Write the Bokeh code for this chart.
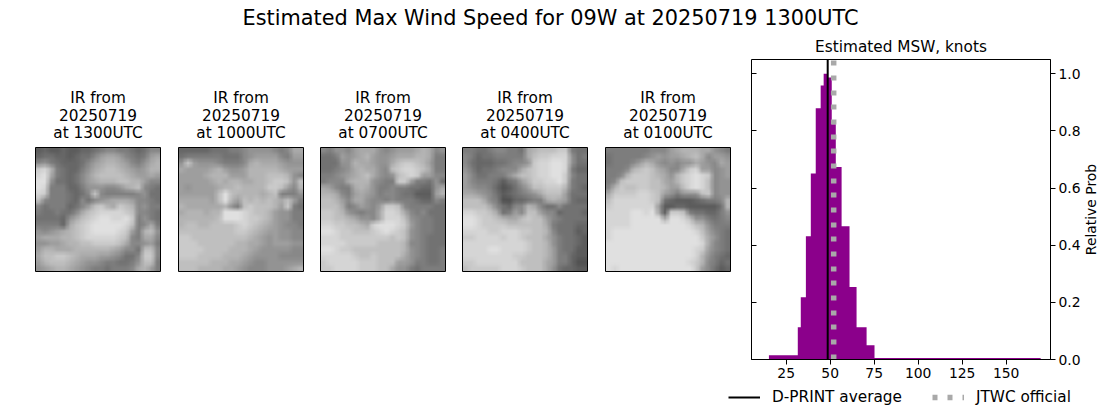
import math
import numpy as np
from bokeh.embed import file_html
from bokeh.layouts import column, row
from bokeh.models import (FixedTicker, Label, Legend, LegendItem, LinearAxis,
                          LinearColorMapper, NumeralTickFormatter, Range1d, Title)
from bokeh.palettes import Greys256
from bokeh.plotting import figure
from bokeh.resources import INLINE

FONT = "DejaVu Sans"

main_title = "Estimated Max Wind Speed for 09W at 20250719 1300UTC"
hist_title = "Estimated MSW, knots"
y_label = "Relative Prob"
panel_times = ["1300UTC", "1000UTC", "0700UTC", "0400UTC", "0100UTC"]
panel_date = "20250719"

# Histogram of estimated MSW (knots): bin edges and relative probabilities
bin_edges = [15.2, 31.6, 33.3, 36.2, 39.0, 41.8, 44.6, 46.3, 48.5, 50.9,
             53.2, 56.5, 61.0, 65.0, 70.7, 75.2, 169.6]
bin_heights = [0.015, 0.113, 0.218, 0.431, 0.651, 0.879, 0.959, 1.0, 0.987,
               0.823, 0.674, 0.466, 0.254, 0.113, 0.050, 0.005]
dprint_average = 48.6
jtwc_official = 52.0
x_ticks = [25, 50, 75, 100, 125, 150]
y_ticks = [0.0, 0.2, 0.4, 0.6, 0.8, 1.0]

# Brightness (one hex digit per cell, top row first)
ir_1300 = [
    "23223 22334 56655 43466", "34433 23446 89986 54589", "67543 33468 9aa98 6579a",
    "cda54 33579 abba9 878aa", "de954 3468a bbbba 98898", "ee744 34689 aaabb aa866",
    "ed555 33577 76679 ab654", "dc555 4346c 65555 56744", "b6555 43646 78999 86654",
    "64555 3468b ca9cb a6755", "54454 469bc ddddc b6654", "44443 79bcd eedde c5754",
    "55553 9bcde eeeed b5695", "76789 abcde eeedc 85ab7", "8999a abcdd dddcb 65996",
    "77889 aabbc cccb9 66785", "8aa99 9aaaa aa986 64bb6", "9bbcc ba999 88764 46cc6",
    "8abbb a9877 65544 57bb5", "789aa 98765 54555 69a85",
]
ir_1000 = [
    "33333 44455 67777 65699", "45555 55444 67888 86588", "7c877 76555 69a99 98777",
    "98888 9a877 8aaaa a9888", "88889 aaa88 8aaab bba76", "88888 9a9aa 99aab ccb7b",
    "87888 89aab aaaac cb86a", "88888 8beba aaa9a b5557", "99999 8bea8 babab a9b85",
    "a9999 99a75 bcbbb a8c54", "9aaa9 aaeee dcbba 87755", "aaaaa abeee dccba 87755",
    "abbaa bbbbc dcba9 87665", "bbbbb bbbbc cba98 87766", "ccbbb bbbbb ba987 87766",
    "cccbb bbbba a9987 88877", "ccccb bbbaa a9877 77766", "cccbb bbaaa 98777 76666",
    "bbbbb aaa99 87667 77777", "bbbaa aa998 76667 7789a",
]
ir_0700 = [
    "65776 89997 67888 9a967", "44587 89a87 78999 aa955", "44477 a9987 79bcc ba855",
    "44567 9a997 6bcdd cb955", "55678 9ab97 67bcd c8866", "56669 aaa76 55cc8 55474",
    "98655 9a975 56554 43379", "aa965 89875 66544 2228a", "bba86 99766 56555 43365",
    "bbb95 68768 ccb65 55544", "ccba7 65669 ddc96 56444", "ccbba 97769 dddb7 65544",
    "ddccb ba9de eedc8 65544", "eedcc bbbcd edcb7 65544", "dddcc ccccc cbcb7 65444",
    "ddddc ccccb bbba6 65444", "eedcc bbbbb bbba7 65445", "ddddd cbbcb bbb97 65445",
    "cdddd dcccb bb887 55445", "ccddd dcccb b9775 45555",
]
ir_0400 = [
    "55445 66554 9abbb cc544", "65344 55555 9bccd dd745", "64333 44566 7cdde ed744",
    "75344 56669 bcdde ed533", "86445 5579b bcdde ec644", "86555 42458 accdd ec544",
    "87665 31246 8bbcc ca543", "99876 42345 679bb b8444", "bbb96 51133 4559a 98433",
    "bbbb9 64366 a9644 64444", "ddccb 94586 bb866 34443", "eedcc ba99b cbb86 54444",
    "eedcc ccbbb bbb95 44433", "ddddc cdddc cbba6 44423", "ccddd dcddc bbb97 54432",
    "ddddd ddddd cbba7 54432", "dddde edddd cbba8 54422", "ddddd dddcc bbba8 55322",
    "ccddd ddddb bbb98 55311", "bcccc cdddc bbb97 43322",
]
ir_0100 = [
    "55555 55666 89aaa 99765", "45555 56787 889ab 96887", "45556 8a976 76779 87698",
    "5556a bcb98 669cd 88678", "556ac ccba9 7acde dc678", "56bcc ccbb9 8acde db677",
    "6acbb ccbba 88bde db677", "9cccc ddcb8 75777 bc677", "bdddd ddcb4 32223 4556a",
    "cdddd ddd82 23322 2224a", "dddde ede92 ccb54 43357", "dddde eeee9 eedb7 75456",
    "dddde eeeee eeedb a7555", "deeee eeeee eeeed b8654", "deeee eeeee eeeee c9754",
    "eeeee eeeee eeeee d9654", "eeeee eeeee eeeed c8654", "eeeee eeeee eeeed a7543",
    "eeeee eeeee eeedc a6534", "edeee eeeee eeeec 86423",
]
panels = [ir_1300, ir_1000, ir_0700, ir_0400, ir_0100]

JTWC_DASH = [5, 10, 5, 10, 5, 9]


def decode(rows, scale=5):
    """Hex rows to grey levels, resampled for display like an interpolated imshow."""
    a = np.array([[70 + 11 * int(c, 16) for c in r.replace(" ", "")] for r in rows], float)
    n = a.shape[0]
    src = np.arange(n) + 0.5
    dst = (np.arange(n * scale) + 0.5) / scale
    a = np.array([np.interp(dst, src, r) for r in a])
    a = np.array([np.interp(dst, src, c) for c in a.T]).T
    return a[::-1]


def bare(width, height, **kw):
    p = figure(width=width, height=height, output_backend="svg", toolbar_location=None,
               x_axis_type=None, y_axis_type=None, **kw)
    p.grid.visible = False
    p.background_fill_color = None
    p.border_fill_color = None
    return p


# Main title strip
top = bare(1100, 32, x_range=Range1d(0, 1), y_range=Range1d(0, 1), min_border=0)
top.outline_line_color = None
top.add_layout(Label(x=550, y=15, x_units="screen", y_units="screen", text=main_title,
                     text_align="center", text_baseline="middle", text_font=FONT,
                     text_font_size="20.83px", text_color="black"))

ROW_H = 353
FRAME_H = 300
IMG_H = 124
IMG_W = 125
mapper = LinearColorMapper(palette=Greys256, low=0, high=255)
# Left border of each image panel's figure
left_borders = [34, 16, 15, 15, 16]
ir_figs = []
for rows, when, bl in zip(panels, panel_times, left_borders):
    n = len(rows)
    ypad = (FRAME_H - IMG_H) / 2 * n / IMG_H
    xpad = n / IMG_W
    p = bare(bl + IMG_W + 2, ROW_H, x_range=Range1d(-xpad, n + xpad),
             y_range=Range1d(-ypad, n + ypad),
             min_border_left=bl, min_border_right=0, min_border_top=27, min_border_bottom=26)
    p.image(image=[decode(rows)], x=0, y=0, dw=n, dh=n, color_mapper=mapper)
    p.quad(left=[0], right=[n], bottom=[0], top=[n], fill_color=None, line_color="black",
           line_width=1)
    p.outline_line_color = None
    for txt, dy in (("IR from", 261.5), (panel_date, 244.5), ("at " + when, 227)):
        p.add_layout(Label(x=63.5, y=dy, x_units="screen", y_units="screen", text=txt,
                           text_align="center", text_baseline="middle",
                           text_font=FONT, text_font_size="15.3px", text_color="black"))
    ir_figs.append(p)

# Histogram panel
h = figure(width=352, height=ROW_H, output_backend="svg", toolbar_location=None,
           x_range=Range1d(5.3, 175.2), y_range=Range1d(0, 1.05),
           x_axis_type=None, y_axis_type=None,
           min_border_left=20, min_border_right=32, min_border_top=27, min_border_bottom=26)
h.grid.visible = False
h.background_fill_color = None
h.border_fill_color = None
h.outline_line_color = "black"
h.varea_step(x=bin_edges, y1=[0] * len(bin_edges), y2=bin_heights + bin_heights[-1:],
             step_mode="after", fill_color="#8b008b")
h.line([jtwc_official] * 2, [0, 1.05], line_color="#a9a9a9", line_width=5.5,
       line_dash=JTWC_DASH)
h.line([dprint_average] * 2, [0, 1.05], line_color="black", line_width=2)

axis_style = dict(major_tick_out=5, major_tick_in=0, minor_tick_out=0, minor_tick_in=0,
                  major_label_standoff=3, major_label_text_font=FONT,
                  major_label_text_font_size="13.9px", major_label_text_color="black",
                  axis_line_color="black", major_tick_line_color="black")
h.add_layout(LinearAxis(ticker=FixedTicker(ticks=x_ticks), **axis_style), "below")
h.add_layout(LinearAxis(ticker=FixedTicker(ticks=y_ticks),
                        formatter=NumeralTickFormatter(format="0.0"), **axis_style), "right")
# Inward ticks on the left spine, without labels
h.add_layout(LinearAxis(ticker=FixedTicker(ticks=y_ticks), major_tick_in=5, major_tick_out=0,
                        minor_tick_in=0, minor_tick_out=0, major_label_text_font_size="0px",
                        major_label_text_color=None, axis_line_color=None,
                        major_tick_line_color="black", major_label_standoff=0), "left")
h.add_layout(Title(text=hist_title, align="center", text_font=FONT, text_font_size="15.3px",
                   text_font_style="normal", text_color="black", standoff=7), "above")

# Narrow strip carrying the rotated y-axis label
side = bare(17, ROW_H, x_range=Range1d(0, 1), y_range=Range1d(0, 1), min_border_left=0,
            min_border_right=0, min_border_top=27, min_border_bottom=26)
side.outline_line_color = None
side.add_layout(Label(x=7, y=150, x_units="screen", y_units="screen", text=y_label,
                      angle=math.pi / 2, text_align="center", text_baseline="middle",
                      text_font=FONT, text_font_size="13.9px", text_color="black"))

# Legend strip below the row
leg = bare(1100, 24, x_range=Range1d(0, 1), y_range=Range1d(0, 1), min_border=0)
leg.outline_line_color = None
r1 = leg.line([dprint_average] * 2, [5, 6], line_color="black", line_width=2)
r2 = leg.line([jtwc_official] * 2, [5, 6], line_color="#a9a9a9", line_width=5.5,
              line_dash=JTWC_DASH)
legend = Legend(items=[LegendItem(label="D-PRINT average", renderers=[r1]),
                       LegendItem(label="JTWC official", renderers=[r2])],
                orientation="horizontal", location=(728, 3), padding=0, margin=0,
                spacing=30, glyph_width=32, glyph_height=16, label_standoff=12,
                border_line_color=None, background_fill_color=None,
                label_text_font=FONT, label_text_font_size="15.3px",
                label_text_color="black")
leg.add_layout(legend, "center")

page = column(top, row(*ir_figs, h, side), leg)
open("out.html", "w").write(file_html(page, INLINE))
